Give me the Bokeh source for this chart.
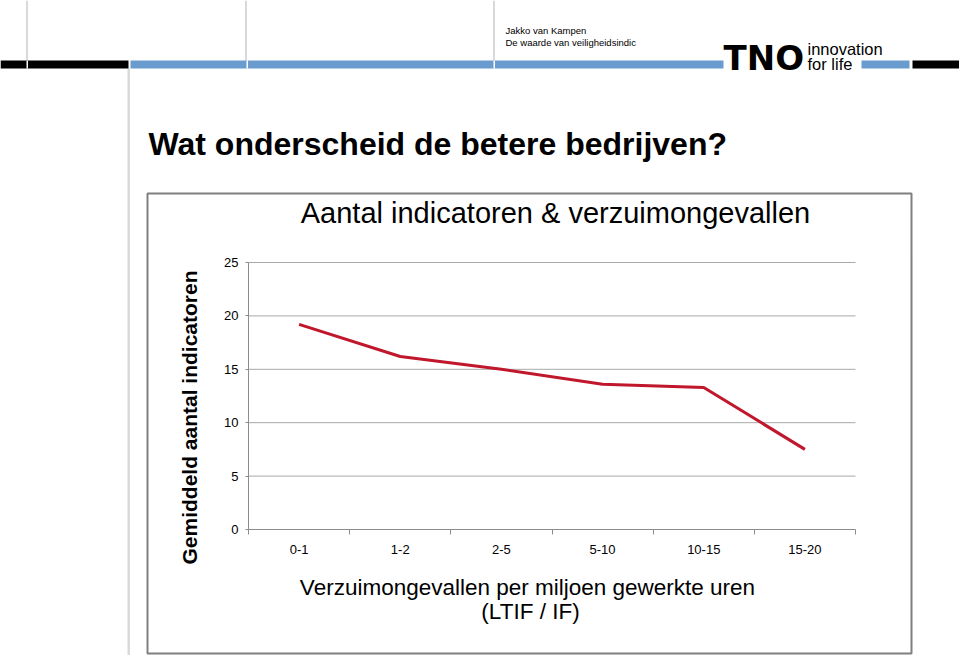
import math
from bokeh.plotting import figure
from bokeh.models import Range1d, FixedTicker, LinearAxis
from bokeh.core.properties import value
from bokeh.embed import file_html
from bokeh.resources import INLINE

# ---- data ----
categories = ["0-1", "1-2", "2-5", "5-10", "10-15", "15-20"]
values = [19.2, 16.2, 15.0, 13.6, 13.3, 7.5]
y_ticks = [0, 5, 10, 15, 20, 25]

slide_title = "Wat onderscheid de betere bedrijven?"
chart_title = "Aantal indicatoren &  verzuimongevallen"
y_label = "Gemiddeld aantal indicatoren"
x_label_1 = "Verzuimongevallen per miljoen gewerkte uren"
x_label_2 = "(LTIF / IF)"

# ---- layout (canvas pixels) ----
W, H = 959, 655
PL, PR, PT, PB = 248, 855, 262, 529      # plot area edges
n = len(categories)
ux = (PR - PL) / n
uy = (PB - PT) / (y_ticks[-1] - y_ticks[0])
x0d = -0.5 - PL / ux
x1d = n - 0.5 + (W - PR) / ux
y0d = y_ticks[0] - (H - PB) / uy
y1d = y_ticks[-1] + PT / uy

FONT = "Liberation Sans"

p = figure(width=W, height=H, output_backend="svg", toolbar_location=None,
           x_range=Range1d(x0d, x1d), y_range=Range1d(y0d, y1d),
           x_axis_type=None, y_axis_type=None, title_location=None,
           min_border=0)
p.min_border_left = p.min_border_right = p.min_border_top = p.min_border_bottom = 0
p.outline_line_color = None
p.background_fill_color = "white"
p.border_fill_color = "white"
p.extra_x_ranges = {"px": Range1d(0, W)}
p.extra_y_ranges = {"py": Range1d(H, 0)}

xs = list(range(n))

def quad(l, r, t, b, color):
    p.quad(left=[l], right=[r], top=[t], bottom=[b], fill_color=color, line_color=None,
           x_range_name="px", y_range_name="py")

def txt(s, x, y, size, font=FONT, style="normal", align="left", angle=0.0, color="black"):
    p.text(x=[x], y=[y], text=[s], x_range_name="px", y_range_name="py",
           text_font=value(font), text_font_size=value(f"{size}px"), text_font_style=value(style),
           text_align=value(align), text_baseline=value("middle"), angle=angle, text_color=color)

# header decorations
quad(26, 27, 0, 60, "#b4b4b4")
quad(245, 246, 0, 60, "#b4b4b4")
quad(493, 494, 0, 60, "#b4b4b4")
quad(127, 129.5, 68, H, "#dadada")
quad(0, 128, 60, 68, "black")
quad(130, 723, 60, 68, "#6a9bcf")
quad(861, 909, 60, 68, "#6a9bcf")
quad(912, W, 60, 68, "black")
for xn in (26, 246, 493):
    quad(xn, xn + 1.5, 60, 68, "white")

txt("Jakko van Kampen", 505, 30, 9.5)
txt("De waarde van veiligheidsindic", 505, 42, 9.5)
txt("TNO", 723, 57, 34, font="DejaVu Sans", style="bold")
txt("innovation", 807, 48, 16.5)
txt("for life", 807, 63, 16.5)

# chart frame
p.quad(left=[147], right=[911], top=[193], bottom=[653], fill_color=None, line_color="#7f7f7f",
       line_width=2, x_range_name="px", y_range_name="py")

# gridlines (at y tick values, across the category span)
gy = y_ticks[1:]
p.segment(x0=[-0.5] * len(gy), x1=[n - 0.5] * len(gy), y0=gy, y1=gy, line_color="#a8a8a8", line_width=1)

# axes
yax = LinearAxis(ticker=FixedTicker(ticks=y_ticks), fixed_location=-0.5, bounds=(y_ticks[0], y_ticks[-1]))
yax.axis_line_color = "#8c8c8c"
yax.major_tick_line_color = "#8c8c8c"
yax.major_tick_out = 3
yax.major_tick_in = 0
yax.minor_tick_line_color = None
yax.major_label_standoff = 7
yax.major_label_text_font = FONT
yax.major_label_text_font_size = "13px"
yax.major_label_text_color = "black"
p.add_layout(yax, "left")

xax = LinearAxis(ticker=FixedTicker(ticks=xs, minor_ticks=[i - 0.5 for i in range(n + 1)]),
                 fixed_location=y_ticks[0], bounds=(-0.5, n - 0.5))
xax.major_label_overrides = {i: c for i, c in zip(xs, categories)}
xax.axis_line_color = "#8c8c8c"
xax.major_tick_out = 0
xax.major_tick_in = 0
xax.minor_tick_out = 5
xax.minor_tick_in = 0
xax.minor_tick_line_color = "#8c8c8c"
xax.major_label_standoff = 10
xax.major_label_text_font = FONT
xax.major_label_text_font_size = "13px"
xax.major_label_text_color = "black"
p.add_layout(xax, "below")

# data line
p.line(xs, values, line_color="#c0172c", line_width=3)

# titles
txt(slide_title, 148, 143, 32, style="bold")
txt(chart_title, 559, 212, 29, align="center")
txt(y_label, 189, 417, 21, style="bold", align="center", angle=math.pi / 2)
txt(x_label_1, 527, 587, 22.5, align="center")
txt(x_label_2, 530, 611, 22.5, align="center")

open("out.html", "w").write(file_html(p, INLINE))
